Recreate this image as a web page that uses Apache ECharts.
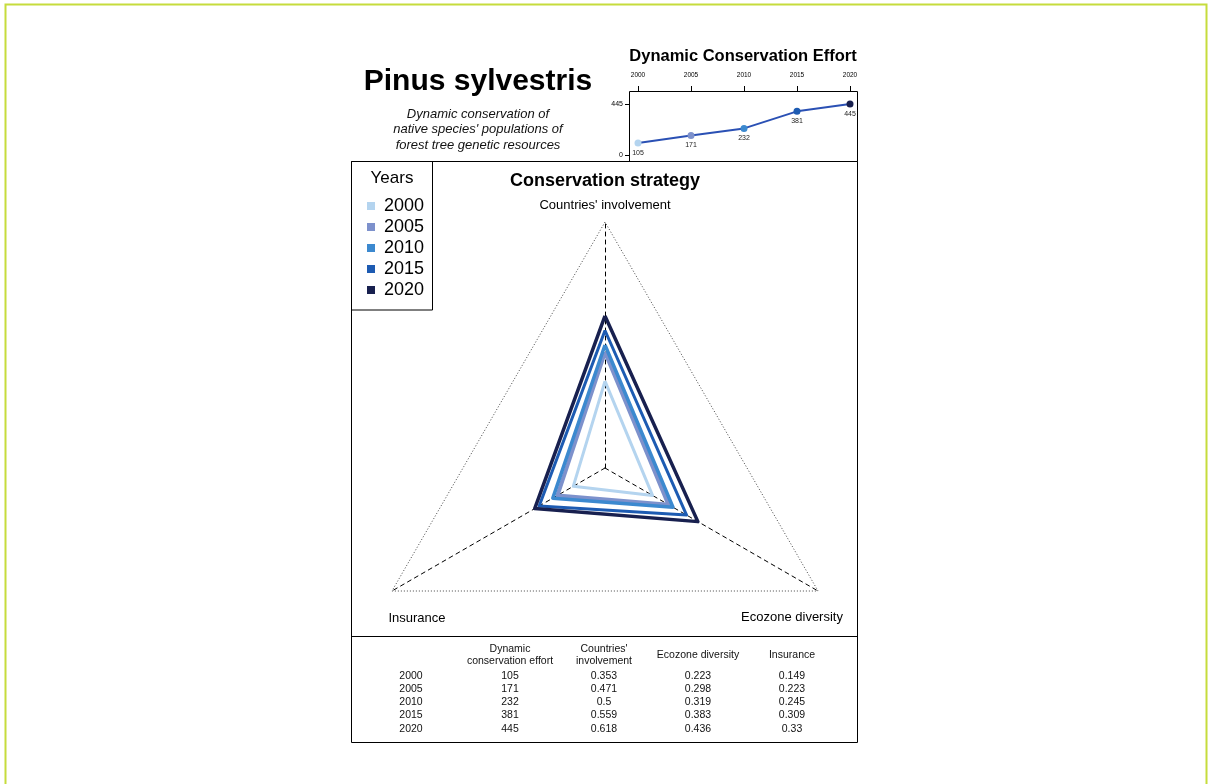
<!DOCTYPE html>
<html>
<head>
<meta charset="utf-8">
<script src="https://cdn.jsdelivr.net/npm/echarts@6/dist/echarts.min.js"></script>
<style>
html,body{margin:0;padding:0;background:#fff;}
#chart{width:1208px;height:784px;}
</style>
</head>
<body>
<div id="chart"></div>
<script>
// ---- data ----
const years = ['2000', '2005', '2010', '2015', '2020'];
const yearNums = [2000, 2005, 2010, 2015, 2020];
const effort = [105, 171, 232, 381, 445];
const countries = [0.353, 0.471, 0.5, 0.559, 0.618];
const ecozone = [0.223, 0.298, 0.319, 0.383, 0.436];
const insurance = [0.149, 0.223, 0.245, 0.309, 0.33];
const indicatorNames = ["Countries' involvement", 'Insurance', 'Ecozone diversity'];
const tableHeaders = ['Dynamic\nconservation effort', "Countries'\ninvolvement", 'Ecozone diversity', 'Insurance'];
const effortTicks = [0, 445];

// ---- styles ----
const colors = ['#b4d4ef', '#7d91cc', '#3c89cf', '#1d5bb2', '#18204f'];
const lineWidths = [3, 4, 3.5, 3, 3.5];
const FONT = "'Liberation Sans', Arial, Helvetica, sans-serif";

const chart = echarts.init(document.getElementById('chart'), null, {renderer: 'canvas'});

// table graphics built from the arrays
const colX = [411, 510, 604, 698, 792];
const rowY0 = 676, rowDY = 13.2;
const tableTexts = [];
tableHeaders.forEach((h, j) => {
  const twoLine = h.indexOf('\n') >= 0;
  tableTexts.push({type: 'text', x: colX[j + 1], y: twoLine ? 655 : 655.5,
    style: {text: h, font: '10.5px ' + FONT, fill: '#111', textAlign: 'center', textVerticalAlign: 'middle', lineHeight: 12}});
});
years.forEach((y, i) => {
  const row = [y, String(effort[i]), String(countries[i]), String(ecozone[i]), String(insurance[i])];
  row.forEach((t, j) => {
    tableTexts.push({type: 'text', x: colX[j], y: rowY0 + i * rowDY,
      style: {text: t, font: '10.5px ' + FONT, fill: '#111', textAlign: 'center', textVerticalAlign: 'middle'}});
  });
});

const axisNamePos = [[605, 205], [417, 618], [792, 617]];
const axisNameTexts = indicatorNames.map((n, k) => ({
  type: 'text', x: axisNamePos[k][0], y: axisNamePos[k][1],
  style: {text: n, font: '13px ' + FONT, fill: '#000', textAlign: 'center', textVerticalAlign: 'middle'}
}));

// small chart box 629..858 x 91..161 ; 2000->638, 2020->850 ; 445->104, 0->155
const pxPerYear = (850 - 638) / 20;
const pxPerUnit = (155 - 104) / 445;

const option = {
  backgroundColor: '#fff',
  animation: false,
  textStyle: {fontFamily: FONT},
  graphic: [
    {type: 'rect', shape: {x: 5.5, y: 4.5, width: 1201, height: 790}, style: {fill: 'none', stroke: '#c6dc3c', lineWidth: 2}, silent: true},
    {type: 'rect', shape: {x: 351.5, y: 161.5, width: 506, height: 581}, style: {fill: 'none', stroke: '#000', lineWidth: 1}},
    {type: 'line', shape: {x1: 351.5, y1: 636.5, x2: 857.5, y2: 636.5}, style: {stroke: '#000', lineWidth: 1}},
    {type: 'rect', shape: {x: 351.5, y: 161.5, width: 81, height: 148.5}, style: {fill: 'none', stroke: '#000', lineWidth: 1}},
    {type: 'rect', shape: {x: 629.5, y: 91.5, width: 228, height: 70}, style: {fill: 'none', stroke: '#000', lineWidth: 1}},
    {type: 'text', x: 478, y: 82, style: {text: 'Pinus sylvestris', font: 'bold 30px ' + FONT, fill: '#000', textAlign: 'center', textVerticalAlign: 'middle'}},
    {type: 'text', x: 478, y: 129.5, style: {text: "Dynamic conservation of\nnative species' populations of\nforest tree genetic resources", font: 'italic 13px ' + FONT, fill: '#111', textAlign: 'center', textVerticalAlign: 'middle', lineHeight: 15.5}},
    {type: 'text', x: 743, y: 56, style: {text: 'Dynamic Conservation Effort', font: 'bold 16.5px ' + FONT, fill: '#000', textAlign: 'center', textVerticalAlign: 'middle'}},
    {type: 'text', x: 605, y: 181, style: {text: 'Conservation strategy', font: 'bold 18px ' + FONT, fill: '#000', textAlign: 'center', textVerticalAlign: 'middle'}},
    {type: 'text', x: 392, y: 178, style: {text: 'Years', font: '17px ' + FONT, fill: '#000', textAlign: 'center', textVerticalAlign: 'middle'}}
  ].concat(axisNameTexts, tableTexts),
  legend: {
    data: years,
    orient: 'vertical',
    left: 362,
    top: 192,
    itemGap: 3,
    itemWidth: 8,
    itemHeight: 8,
    icon: 'rect',
    selectedMode: false,
    textStyle: {fontSize: 18, color: '#000', fontFamily: FONT, padding: [0, 0, 0, 4]}
  },
  radar: {
    center: [605, 468],
    radius: 246,
    startAngle: 90,
    splitNumber: 1,
    indicator: indicatorNames.map(n => ({name: n, min: 0, max: 1})),
    axisName: {show: false},
    axisLine: {lineStyle: {color: '#000', type: [4, 4], width: 1}},
    splitLine: {lineStyle: {color: '#444', type: [1, 2], width: 1}},
    splitArea: {show: false},
    axisTick: {show: false},
    axisLabel: {show: false}
  },
  grid: {left: 630, width: 228, top: 92, height: 69},
  xAxis: {
    type: 'value',
    min: 2000 - (638 - 630) / pxPerYear,
    max: 2020 + (858 - 850) / pxPerYear,
    position: 'top',
    axisLine: {show: false, onZero: false},
    axisTick: {show: true, length: 6, inside: false, customValues: yearNums, lineStyle: {color: '#000', width: 1}},
    axisLabel: {fontSize: 6.5, color: '#000', margin: 13, customValues: yearNums, formatter: v => String(v), fontFamily: FONT},
    splitLine: {show: false}
  },
  yAxis: {
    type: 'value',
    min: 0 - (161 - 155) / pxPerUnit,
    max: 445 + (104 - 92) / pxPerUnit,
    axisLine: {show: false, onZero: false},
    axisTick: {show: true, length: 5, customValues: effortTicks, lineStyle: {color: '#000', width: 1}},
    axisLabel: {fontSize: 7, color: '#000', margin: 7, customValues: effortTicks, formatter: v => String(v), fontFamily: FONT},
    splitLine: {show: false}
  },
  series: [
    {
      type: 'radar',
      symbol: 'none',
      data: years.map((y, i) => ({
        name: y,
        value: [countries[i], insurance[i], ecozone[i]],
        lineStyle: {color: colors[i], width: lineWidths[i]},
        itemStyle: {color: colors[i]}
      }))
    },
    {
      type: 'line',
      data: yearNums.map((y, i) => ({
        value: [y, effort[i]],
        itemStyle: {color: colors[i]}
      })),
      lineStyle: {color: '#2a50b4', width: 2},
      symbol: 'circle',
      symbolSize: 7,
      label: {show: true, position: 'bottom', fontSize: 7, color: '#222', distance: 3, fontFamily: FONT}
    }
  ]
};
chart.setOption(option);
</script>
</body>
</html>
